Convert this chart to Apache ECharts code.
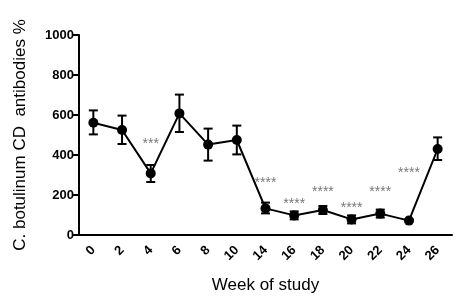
<!DOCTYPE html>
<html><head><meta charset="utf-8">
<script src="https://cdn.jsdelivr.net/npm/echarts@6/dist/echarts.min.js"></script>
<style>html,body{margin:0;padding:0;background:#fff}#c{width:460px;height:307px}</style>
</head><body><div id="c"></div>
<script>
var weeks = ['0','2','4','6','8','10','14','16','18','20','22','24','26'];
var means = [561, 525, 308, 608, 452, 475, 133, 98, 125, 78, 107, 72, 430];
var errLow = [503, 455, 265, 515, 372, 403, 108, 78, 105, 58, 87, 67, 375];
var errHigh = [623, 597, 350, 702, 532, 547, 162, 118, 145, 98, 127, 77, 488];
var starText = ['', '', '***', '', '', '', '****', '****', '****', '****', '****', '****', ''];
var starAt = [null, null, 455, null, null, null, 260, 155, 215, 135, 215, 310, null];

var F = 'Liberation Sans, Arial, sans-serif';
var chart = echarts.init(document.getElementById('c'));
chart.setOption({
  animation: false,
  grid: {left: 79, right: 8, top: 35, bottom: 72},
  xAxis: {
    type: 'category', data: weeks, boundaryGap: true,
    name: 'Week of study', nameLocation: 'middle', nameGap: 42,
    nameTextStyle: {fontFamily: F, fontSize: 17, color: '#000'},
    axisLine: {lineStyle: {color: '#000', width: 2}},
    axisTick: {alignWithLabel: true, length: 5, lineStyle: {color: '#000', width: 2}},
    axisLabel: {rotate: 45, fontFamily: F, fontSize: 13, fontWeight: 'bold', color: '#000', margin: 13}
  },
  yAxis: {
    type: 'value', min: 0, max: 1000, interval: 200,
    name: 'C. botulinum CD  antibodies %', nameLocation: 'middle', nameGap: 50,
    nameTextStyle: {fontFamily: F, fontSize: 17, color: '#000'},
    axisLine: {show: true, lineStyle: {color: '#000', width: 2}},
    axisTick: {show: true, length: 6, lineStyle: {color: '#000', width: 2}},
    axisLabel: {fontFamily: F, fontSize: 13, fontWeight: 'bold', color: '#000', margin: 5,
      formatter: function(v){ return String(v); }},
    splitLine: {show: false}
  },
  series: [
    {
      type: 'custom',
      data: weeks.map(function(w, i){ return [i, errLow[i], errHigh[i]]; }),
      renderItem: function(params, api){
        var lo = api.coord([api.value(0), api.value(1)]);
        var hi = api.coord([api.value(0), api.value(2)]);
        var hw = 4.5;
        var st = {stroke: '#000', lineWidth: 2};
        return {type: 'group', children: [
          {type: 'line', shape: {x1: lo[0], y1: lo[1], x2: hi[0], y2: hi[1]}, style: st},
          {type: 'line', shape: {x1: lo[0]-hw, y1: lo[1], x2: lo[0]+hw, y2: lo[1]}, style: st},
          {type: 'line', shape: {x1: hi[0]-hw, y1: hi[1], x2: hi[0]+hw, y2: hi[1]}, style: st}
        ]};
      },
      z: 3
    },
    {
      type: 'line', data: means, symbol: 'circle', symbolSize: 10,
      lineStyle: {color: '#000', width: 2}, itemStyle: {color: '#000'}, z: 4
    },
    {
      type: 'scatter', symbolSize: 0,
      data: weeks.map(function(w, i){ return starAt[i] == null ? null : {value: [i, starAt[i]], name: starText[i]}; }).filter(function(d){return d;}),
      label: {show: true, position: 'inside', formatter: function(p){ return p.name; },
        fontFamily: F, fontSize: 14, color: '#555', letterSpacing: 1.5},
      z: 5
    }
  ]
});
</script></body></html>
